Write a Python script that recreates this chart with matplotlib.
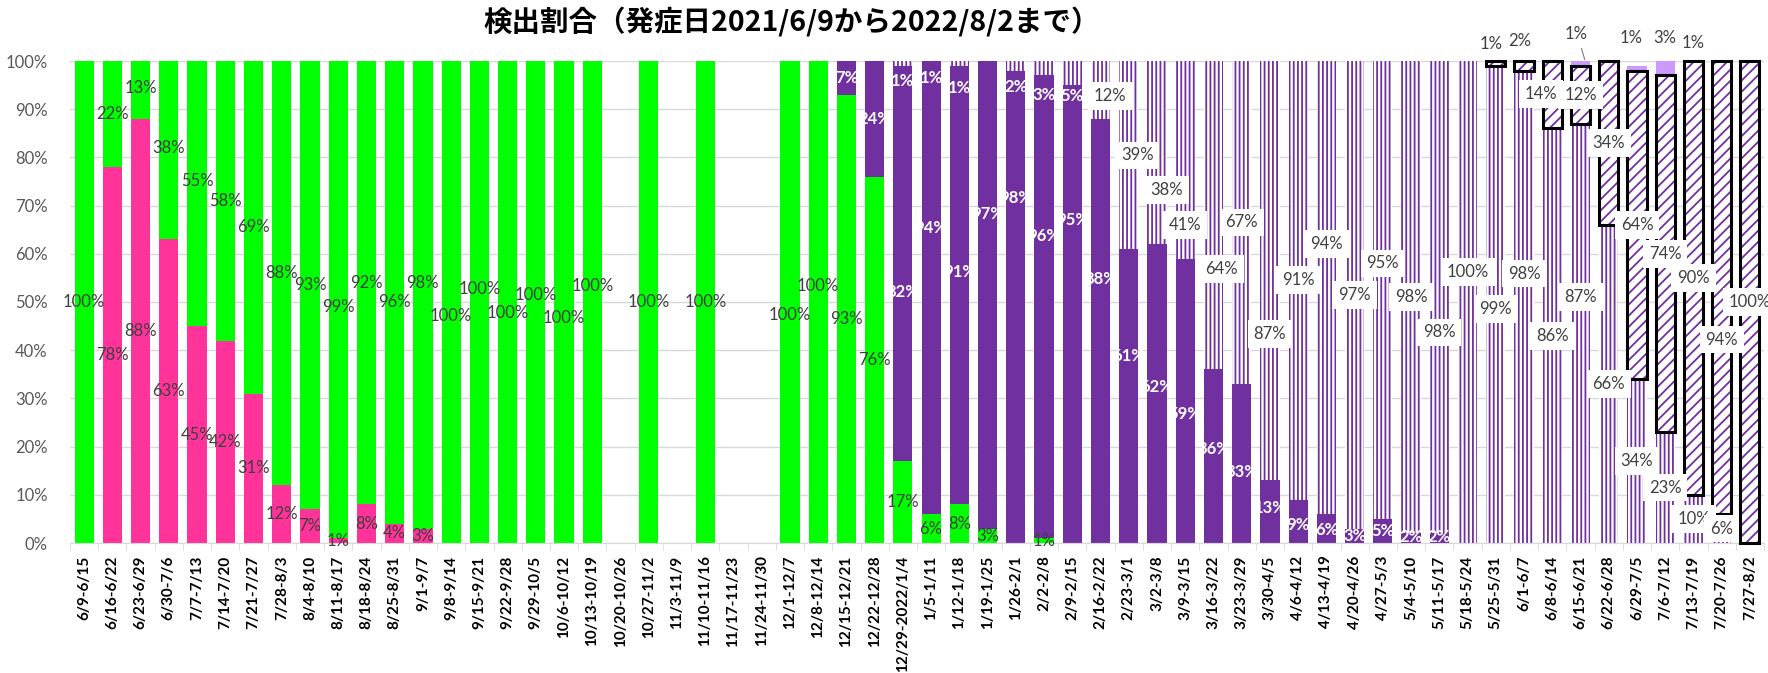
import matplotlib
matplotlib.use("Agg")
import matplotlib.pyplot as plt
import numpy as np

plt.rcParams['font.family'] = ['Lato', 'Noto Sans CJK JP', 'DejaVu Sans']
plt.rcParams['hatch.linewidth'] = 1.3

weeks = ["6/9-6/15", "6/16-6/22", "6/23-6/29", "6/30-7/6", "7/7-7/13", "7/14-7/20",
         "7/21-7/27", "7/28-8/3", "8/4-8/10", "8/11-8/17", "8/18-8/24", "8/25-8/31",
         "9/1-9/7", "9/8-9/14", "9/15-9/21", "9/22-9/28", "9/29-10/5", "10/6-10/12",
         "10/13-10/19", "10/20-10/26", "10/27-11/2", "11/3-11/9", "11/10-11/16",
         "11/17-11/23", "11/24-11/30", "12/1-12/7", "12/8-12/14", "12/15-12/21",
         "12/22-12/28", "12/29-2022/1/4", "1/5-1/11", "1/12-1/18", "1/19-1/25",
         "1/26-2/1", "2/2-2/8", "2/9-2/15", "2/16-2/22", "2/23-3/1", "3/2-3/8",
         "3/9-3/15", "3/16-3/22", "3/23-3/29", "3/30-4/5", "4/6-4/12", "4/13-4/19",
         "4/20-4/26", "4/27-5/3", "5/4-5/10", "5/11-5/17", "5/18-5/24", "5/25-5/31",
         "6/1-6/7", "6/8-6/14", "6/15-6/21", "6/22-6/28", "6/29-7/5", "7/6-7/12",
         "7/13-7/19", "7/20-7/26", "7/27-8/2"]
n = len(weeks)

# weekly share (%) per lineage
alpha = [0, 78, 88, 63, 45, 42, 31, 12, 7, 1, 8, 4, 3] + [0] * 47
delta = [100, 22, 13, 38, 55, 58, 69, 88, 93, 99, 92, 96, 98, 100, 100, 100, 100, 100,
         100, 0, 100, 0, 100, 0, 0, 100, 100, 93, 76, 17, 6, 8, 3, 0, 1] + [0] * 25
ba1 = [0] * 27 + [7, 24, 82, 94, 91, 97, 98, 96, 95, 88, 61, 62, 59, 36, 33, 13, 9, 6,
                  3, 5, 2, 2] + [0] * 11
ba2 = [0] * 29 + [1, 1, 1, 0, 2, 3, 5, 12, 39, 38, 41, 64, 67, 87, 91, 94, 97, 95, 98,
                  98, 100, 99, 98, 86, 87, 66, 34, 23, 10, 6, 0]
ba5 = [0] * 50 + [1, 2, 14, 12, 34, 64, 74, 90, 94, 100]
ba4 = [0] * 53 + [1, 0, 1, 3, 1, 0, 0]

# label placement tweaks: index -> (x shift, y)
delta_lbl = {4: (0, 75), 9: (0, 49), 11: (0, 50), 12: (0, 54), 13: (0, 47),
             14: (0, 52.7), 15: (0, 47.7), 16: (0, 51.5), 17: (0, 46.7), 18: (0, 53.3),
             25: (0, 47.3), 26: (0, 53.3)}
ba1_lbl = {29: (0, 52), 30: (0, 65.3), 31: (0, 56.3), 32: (0, 68.3), 33: (0, 71.6),
           34: (0, 63.7), 35: (0, 67), 36: (0, 54.8), 37: (0, 38.7), 38: (0, 32.4),
           39: (0, 26.7), 40: (0, 19.4), 41: (0, 14.7), 42: (0, 7.3), 43: (0, 3.8),
           44: (0, 2.7), 45: (0, 1.5), 46: (0, 2.4), 47: (0, 1.2), 48: (0, 1.2)}
ba2_lbl = {29: (0, 95.9), 30: (0, 96.4), 31: (0, 94.4), 33: (0, 94.7), 34: (0, 93),
           35: (0, 92.7), 36: (0.35, 92.7), 37: (0.3, 80.4), 38: (0.35, 73.3),
           39: (0, 66), 40: (0.3, 56.9), 42: (0, 43.3), 44: (0, 62), 46: (0, 58),
           48: (0, 43.7), 49: (0, 56.2), 50: (0, 48.6), 51: (0, 55.9), 53: (0, 51.1)}
ba5_lbl = {50: (-0.15, 103.6), 51: (-0.15, 104.2), 52: (-0.4, 93.1), 58: (0, 42.2)}
ba4_lbl = {53: (-0.15, 105.5), 55: (-0.2, 104.7), 56: (0, 104.7), 57: (0, 103.8)}

GREEN = '#00FF00'
PINK = '#FF3399'
PURPLE = '#7030A0'
LILAC = '#CC99FF'
GRAY = '#404040'

fig = plt.figure(figsize=(17.68, 6.73), dpi=100)
ax = fig.add_axes([70 / 1768, 1 - 543 / 673, 1694 / 1768, 482 / 673])
x = np.arange(n)
w = 0.68

bottom = np.zeros(n)
segs = {}
for name, vals in [('alpha', alpha), ('delta', delta), ('ba1', ba1),
                   ('ba2', ba2), ('ba5', ba5), ('ba4', ba4)]:
    vals = np.array(vals, dtype=float)
    segs[name] = (vals, bottom.copy())
    m = vals > 0
    xs, hs, bs = x[m], vals[m], bottom[m]
    if name == 'alpha':
        ax.bar(xs, hs, w, bottom=bs, color=PINK, linewidth=0)
    elif name == 'delta':
        ax.bar(xs, hs, w, bottom=bs, color=GREEN, linewidth=0)
    elif name == 'ba1':
        ax.bar(xs, hs, w, bottom=bs, color=PURPLE, linewidth=0)
    elif name == 'ba2':
        ax.bar(xs, hs, w, bottom=bs, facecolor='white', edgecolor=PURPLE,
               hatch='||||', linewidth=0)
    elif name == 'ba5':
        ax.bar(xs, hs, w, bottom=bs, facecolor='white', edgecolor=PURPLE,
               hatch='///', linewidth=0, zorder=2)
        ax.bar(xs, hs, w, bottom=bs, fill=False, edgecolor='black',
               linewidth=2.2, clip_on=False, zorder=3)
    else:
        ax.bar(xs, hs, w, bottom=bs, color=LILAC, linewidth=0)
    bottom = bottom + vals


def put_labels(name, tweaks, style, white_idx=()):
    vals, base = segs[name]
    for i in range(n):
        v = vals[i]
        if v <= 0:
            continue
        dx, y = tweaks.get(i, (0, base[i] + v / 2))
        kw = dict(ha='center', va='center', fontsize=12, clip_on=False, zorder=5)
        if style == 'white' or i in white_idx:
            kw.update(color='white', fontweight='bold')
        elif style == 'box':
            kw.update(color=GRAY, bbox=dict(boxstyle='square,pad=0.35', fc='white',
                                             ec='none'))
        else:
            kw.update(color=GRAY)
        ax.text(i + dx, y, f"{int(v)}%", **kw)


put_labels('alpha', {}, 'plain')
put_labels('delta', delta_lbl, 'plain')
put_labels('ba1', ba1_lbl, 'white')
put_labels('ba2', ba2_lbl, 'box', white_idx=range(29, 36))
put_labels('ba5', ba5_lbl, 'box')
put_labels('ba4', ba4_lbl, 'box')

# leader line for the small 6/15-6/21 segment
ax.plot([53 - 0.05, 53.15], [104.3, 100.3], color='#7F7F7F', linewidth=0.8,
        clip_on=False, zorder=4)

ax.set_xlim(-0.5, n - 0.5)
ax.set_ylim(0, 100)
ax.set_yticks(np.arange(0, 101, 10))
ax.set_yticklabels([f"{t}%" for t in range(0, 101, 10)], fontsize=12, color='#595959')
ax.set_xticks(x)
ax.set_xticklabels(weeks, rotation=90, fontsize=11, fontweight='bold')
ax.set_xticks(np.arange(-0.5, n, 1), minor=True)
ax.tick_params(axis='x', which='major', length=0, pad=9)
ax.tick_params(axis='x', which='minor', length=5, color='#D9D9D9')
ax.tick_params(axis='y', length=0, pad=16)
ax.yaxis.grid(True, color='#D9D9D9', linewidth=1)
ax.set_axisbelow(True)
for s in ['top', 'right', 'left']:
    ax.spines[s].set_visible(False)
ax.spines['bottom'].set_color('#D9D9D9')

fig.text(0.448, 0.968, '検出割合（発症日2021/6/9から2022/8/2まで）', ha='center', va='center',
         fontsize=20.5, fontweight='bold', family=['Noto Sans CJK JP', 'DejaVu Sans'])

fig.savefig('out.png', dpi=100)
